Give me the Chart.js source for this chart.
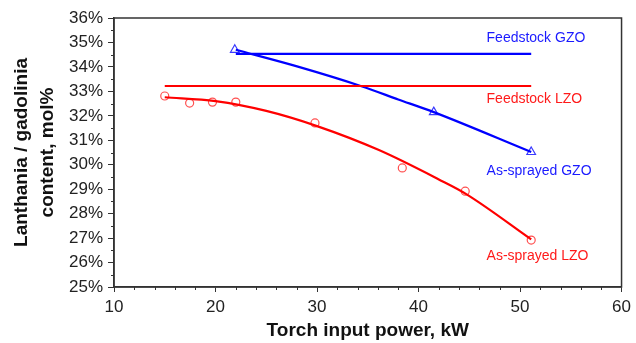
<!DOCTYPE html>
<html>
<head>
<meta charset="utf-8">
<script src="https://cdn.jsdelivr.net/npm/chart.js@4/dist/chart.umd.min.js"></script>
<style>
  html, body { margin: 0; padding: 0; background: #fff; }
  #wrap { width: 636px; height: 343px; position: relative; }
</style>
</head>
<body>
<div id="wrap"><canvas id="chart"></canvas></div>
<script>
// Measured points (torch power kW, content mol%)
const lzoPower = [15.0, 17.45, 19.7, 22.0, 29.8, 38.4, 44.6, 51.1];
const lzoContent = [32.81, 32.52, 32.56, 32.56, 31.71, 29.87, 28.92, 26.92];
const gzoPower = [21.9, 41.5, 51.1];
const gzoContent = [34.70, 32.15, 30.52];

// Fitted trend curves
const lzoFitPower = [15.0, 20.0, 25.0, 30.0, 36.1, 42.0, 44.7, 51.1];
const lzoFitContent = [32.76, 32.60, 32.20, 31.58, 30.60, 29.40, 28.80, 26.95];
const gzoFitPower = [22.0, 28.2, 34.3, 38.0, 41.5, 51.1];
const gzoFitContent = [34.70, 34.00, 33.22, 32.67, 32.15, 30.52];

// Feedstock levels
const feedGzoPower = [22.0, 51.1];
const feedGzoContent = [34.53, 34.53];
const feedLzoPower = [15.0, 51.1];
const feedLzoContent = [33.22, 33.22];

// Axis ticks
const xMajorTicks = [10, 20, 30, 40, 50, 60];
const yMajorTicks = [25, 26, 27, 28, 29, 30, 31, 32, 33, 34, 35, 36];

// Curve labels (anchored in data units)
const labelTexts = ['Feedstock GZO', 'Feedstock LZO', 'As-sprayed GZO', 'As-sprayed LZO'];
const labelX = [46.7, 46.7, 46.7, 46.7];
const labelY = [35.18, 32.69, 29.74, 26.28];
const labelColors = ['#1a1aff', '#ff1a1a', '#1a1aff', '#ff1a1a'];

const RED = '#ff0000';
const BLUE = '#0000ff';

function pts(xs, ys) {
    return xs.map((x, i) => ({ x: x, y: ys[i] }));
}

const minorTicks = {
    id: 'minorTicks',
    afterDraw(chart) {
        const c = chart.ctx;
        const area = chart.chartArea;
        const xs = chart.scales.x;
        const ys = chart.scales.y;
        c.save();
        c.strokeStyle = '#333';
        c.lineWidth = 1;
        // minor ticks
        for (let v = 10; v <= 60; v += 2) {
            if (v % 10 === 0) continue;
            const px = Math.round(xs.getPixelForValue(v)) + 0.5;
            c.beginPath();
            c.moveTo(px, area.bottom);
            c.lineTo(px, area.bottom + 3);
            c.stroke();
        }
        for (let v = 25.5; v < 36; v += 1) {
            const py = Math.round(ys.getPixelForValue(v)) + 0.5;
            c.beginPath();
            c.moveTo(area.left - 3, py);
            c.lineTo(area.left, py);
            c.stroke();
        }
        // box around plot
        c.lineWidth = 1.5;
        c.strokeRect(area.left, area.top, area.right - area.left, area.bottom - area.top);

        // curve labels
        c.font = '14px "Liberation Sans", Arial, sans-serif';
        c.textAlign = 'left';
        c.textBaseline = 'middle';
        labelTexts.forEach((t, i) => {
            c.fillStyle = labelColors[i];
            c.fillText(t, xs.getPixelForValue(labelX[i]), ys.getPixelForValue(labelY[i]));
        });
        c.restore();
    }
};

new Chart(document.getElementById('chart'), {
    type: 'scatter',
    data: {
        datasets: [
            {
                data: pts(feedGzoPower, feedGzoContent),
                showLine: true, borderColor: BLUE, borderWidth: 2.2, pointRadius: 0
            },
            {
                data: pts(feedLzoPower, feedLzoContent),
                showLine: true, borderColor: RED, borderWidth: 2.2, pointRadius: 0
            },
            {
                data: pts(gzoFitPower, gzoFitContent),
                showLine: true, borderColor: BLUE, borderWidth: 2.2, pointRadius: 0,
                cubicInterpolationMode: 'monotone'
            },
            {
                data: pts(lzoFitPower, lzoFitContent),
                showLine: true, borderColor: RED, borderWidth: 2.2, pointRadius: 0,
                cubicInterpolationMode: 'monotone'
            },
            {
                data: pts(gzoPower, gzoContent),
                showLine: false, pointStyle: 'triangle', pointRadius: 5,
                borderColor: '#3a3aff', backgroundColor: 'rgba(0,0,0,0)', pointBorderWidth: 1.2
            },
            {
                data: pts(lzoPower, lzoContent),
                showLine: false, pointStyle: 'circle', pointRadius: 4,
                borderColor: '#ff5050', backgroundColor: 'rgba(0,0,0,0)', pointBorderWidth: 1.2
            }
        ]
    },
    options: {
        responsive: true,
        maintainAspectRatio: false,
        animation: false,
        layout: { padding: { top: 18, right: 11, left: 0, bottom: 0 } },
        plugins: {
            legend: { display: false },
            tooltip: { enabled: false }
        },
        scales: {
            x: {
                type: 'linear',
                min: 10, max: 60,
                afterBuildTicks: (scale) => {
                    scale.ticks = xMajorTicks.map(v => ({ value: v }));
                },
                afterFit: (scale) => { scale.height = 56; },
                grid: { drawOnChartArea: false, tickLength: 5, tickColor: '#333', tickWidth: 1 },
                border: { color: '#333', width: 1.5 },
                ticks: {
                    color: '#222', padding: 5,
                    font: { size: 17, family: '"Liberation Sans", Arial, sans-serif' }
                },
                title: {
                    display: true,
                    text: 'Torch input power, kW',
                    color: '#111',
                    padding: { top: 0, bottom: 1 },
                    font: { size: 19, weight: 'bold', family: '"Liberation Sans", Arial, sans-serif' }
                }
            },
            y: {
                type: 'linear',
                min: 25, max: 36,
                afterBuildTicks: (scale) => {
                    scale.ticks = yMajorTicks.map(v => ({ value: v }));
                },
                afterFit: (scale) => { scale.width = 114; },
                grid: { drawOnChartArea: false, tickLength: 6, tickColor: '#333', tickWidth: 1 },
                border: { color: '#333', width: 1.5 },
                ticks: {
                    color: '#222', padding: 5,
                    font: { size: 17, family: '"Liberation Sans", Arial, sans-serif' },
                    callback: (v) => v + '%'
                },
                title: {
                    display: true,
                    text: ['Lanthania / gadolinia', 'content, mol%'],
                    color: '#111',
                    padding: { top: 9, bottom: 0 },
                    font: { size: 19, weight: 'bold', lineHeight: 1.37, family: '"Liberation Sans", Arial, sans-serif' }
                }
            }
        }
    },
    plugins: [minorTicks]
});
</script>
</body>
</html>
